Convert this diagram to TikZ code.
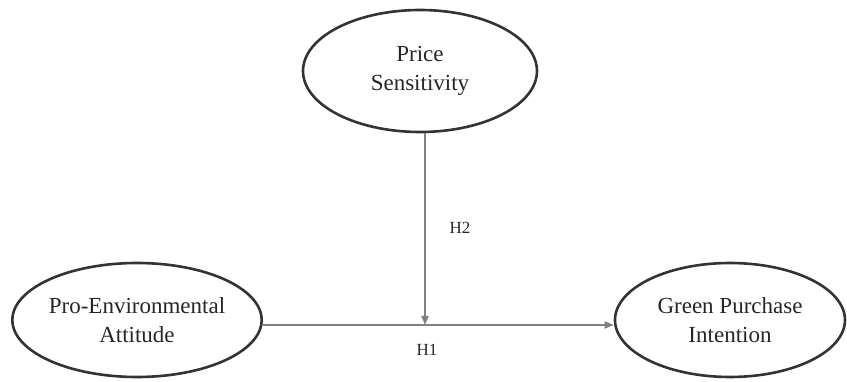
\documentclass[tikz,border=0pt]{standalone}
\usepackage{fontspec}
\setmainfont{Liberation Serif}
\usetikzlibrary{shapes.geometric,arrows.meta}
\begin{document}
\begin{tikzpicture}[x=1pt,y=-1pt,
  construct/.style={ellipse,draw=black!80,line width=2.6pt,minimum width=#1,inner sep=0pt,font=\fontsize{23}{29}\selectfont,align=center,text=black!85},
  path/.style={draw=black!50,line width=1.8pt,-{Triangle[length=9pt,width=7pt]}},
  hyp/.style={font=\fontsize{17}{20}\selectfont,text=black!85}]
\useasboundingbox (0,0) rectangle (847,382);
\node[construct=234pt,minimum height=122pt] (ps) at (420,71) {Price\\Sensitivity};
\node[construct=246pt,minimum height=114pt] (pea) at (137,320) {Pro-Environmental\\Attitude};
\node[construct=230pt,minimum height=114pt] (gpi) at (730,320) {Green Purchase\\Intention};
\coordinate (m) at (425,325);
\draw[path] (pea.east |- m) -- (gpi.west |- m);
\draw[path] (m |- ps.south) -- (m);
\node[hyp] (h2) at (460,228) {H2};
\node[hyp] (h1) at (427,350) {H1};
\end{tikzpicture}
\end{document}
